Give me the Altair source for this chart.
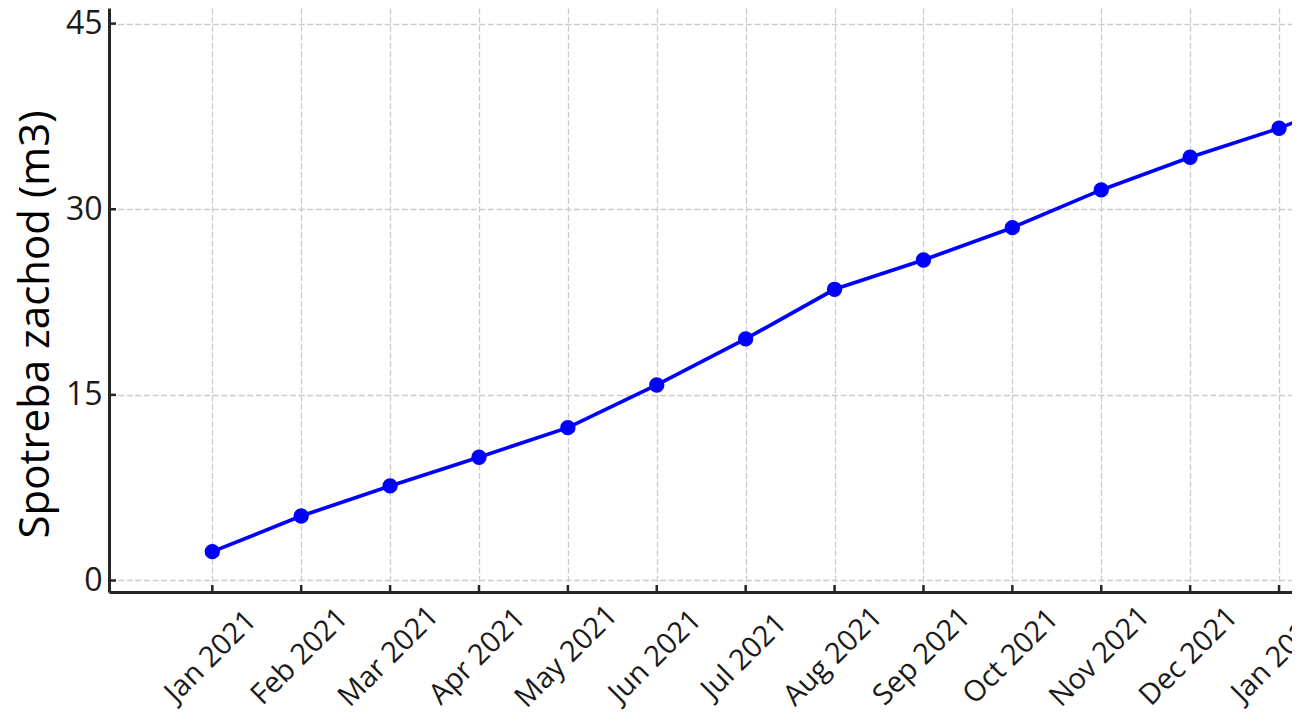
import altair as alt
import pandas as pd

# ---- data ----
month_labels = ["Jan 2021", "Feb 2021", "Mar 2021", "Apr 2021", "May 2021", "Jun 2021",
                "Jul 2021", "Aug 2021", "Sep 2021", "Oct 2021", "Nov 2021", "Dec 2021",
                "Jan 2022", "Feb 2022"]
consumption = [2.33, 5.21, 7.64, 9.96, 12.35, 15.80, 19.52, 23.53, 25.90, 28.51,
               31.56, 34.20, 36.54, 39.4]
y_ticks = [0, 15, 30, 45]
x_tick_idx = list(range(13))

# visible window of the (cropped) original figure
x_domain = [-1.162, 12.146]
y_domain = [-0.93, 46.26]
tick_len_x = 7 / 88.89
tick_len_y = 7 / 12.375

df = pd.DataFrame({"idx": list(range(len(consumption))), "value": consumption,
                   "month": month_labels[:len(consumption)]})
xt = pd.DataFrame({"idx": x_tick_idx, "y0": y_domain[0], "y1": y_domain[0] + tick_len_y})
yt = pd.DataFrame({"v": y_ticks, "x0": x_domain[0], "x1": x_domain[0] + tick_len_x})

label_arr = "[" + ",".join("'%s'" % m for m in month_labels) + "]"

xscale = alt.Scale(domain=x_domain, nice=False, zero=False)
yscale = alt.Scale(domain=y_domain, nice=False, zero=False)

x_axis = alt.Axis(values=x_tick_idx, labelExpr=label_arr + "[datum.value]",
                  labelAngle=315, labelAlign="center", labelBaseline="middle",
                  labelPadding=64, labelOffset=-2, labelOverlap=False, labelFlush=False,
                  labelFont="Open Sans", labelFontSize=29, labelColor="#1a1a1a",
                  ticks=False, tickSize=0, title=None,
                  grid=True, gridColor="#cccccc", gridDash=[6, 2.6], gridWidth=1.3,
                  domainColor="#262626", domainWidth=3)
y_axis = alt.Axis(values=y_ticks, labelFont="Open Sans", labelFontSize=32,
                  labelColor="#1a1a1a", labelPadding=7, ticks=False, tickSize=0,
                  title="Spotreba zachod (m3)", titleFont="Open Sans", titleFontSize=42,
                  titleFontWeight="normal", titleColor="black", titleAngle=270,
                  titleAlign="center", titleBaseline="alphabetic", titleX=-60.5, titleY=316,
                  grid=True, gridColor="#cccccc", gridDash=[6, 2.6], gridWidth=1.3,
                  domainColor="#262626", domainWidth=3)

base = alt.Chart(df)
line = base.mark_line(color="#0000ff", strokeWidth=3.7, clip=True).encode(
    x=alt.X("idx:Q", scale=xscale, axis=x_axis),
    y=alt.Y("value:Q", scale=yscale, axis=y_axis),
)
pts = base.mark_circle(color="#0000ff", size=235, opacity=1, clip=True).encode(
    x=alt.X("idx:Q", scale=xscale),
    y=alt.Y("value:Q", scale=yscale),
)
xticks = alt.Chart(xt).mark_rule(color="#262626", strokeWidth=2.5).encode(
    x=alt.X("idx:Q", scale=xscale), y=alt.Y("y0:Q", scale=yscale), y2="y1:Q")
yticks = alt.Chart(yt).mark_rule(color="#262626", strokeWidth=2.5).encode(
    y=alt.Y("v:Q", scale=yscale), x=alt.X("x0:Q", scale=xscale), x2="x1:Q")

chart = alt.layer(line, pts, xticks, yticks).properties(
    width=1183, height=584,
    autosize=alt.AutoSizeParams(type="none"),
    padding={"left": 101, "top": 0, "right": 0, "bottom": 126},
    background="white",
).configure_view(stroke="transparent")

chart.save("out.html", embed_options={"renderer": "svg", "actions": False})
